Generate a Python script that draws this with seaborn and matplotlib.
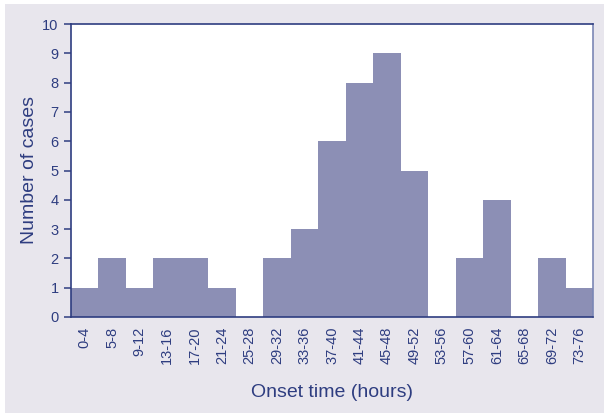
import matplotlib
matplotlib.use("Agg")
import matplotlib.pyplot as plt
import seaborn as sns
import pandas as pd
import numpy as np
from matplotlib.patches import Rectangle

categories = ["0-4", "5-8", "9-12", "13-16", "17-20", "21-24", "25-28", "29-32",
              "33-36", "37-40", "41-44", "45-48", "49-52", "53-56", "57-60",
              "61-64", "65-68", "69-72", "73-76"]
cases = [1, 2, 1, 2, 2, 1, 0, 2, 3, 6, 8, 9, 5, 0, 2, 4, 0, 2, 1]
yticks = [0, 1, 2, 3, 4, 5, 6, 7, 8, 9, 10]

sns.set_theme(style="white")
plt.rcParams['font.family'] = ['Liberation Sans', 'DejaVu Sans']

navy = "#2e3d80"
bg = "#e8e6ed"
barc = "#8c8fb5"

df = pd.DataFrame({"onset": categories, "cases": cases})

fig = plt.figure(figsize=(6.04, 4.13), dpi=100)
fig.patch.set_facecolor("white")
fig.patches.append(Rectangle((5 / 604, 0), 1, 1 - 4 / 413, transform=fig.transFigure,
                             facecolor=bg, edgecolor="none", zorder=-10))
ax = fig.add_axes([71 / 604, 1 - 317 / 413, 522 / 604, 293 / 413])
ax.set_facecolor("white")

sns.barplot(data=df, x="onset", y="cases", color=barc, width=1.0,
            saturation=1, edgecolor="none", linewidth=0, ax=ax)

ax.set_xlim(-0.5, len(categories) - 0.5)
ax.set_ylim(0, 10)
ax.set_yticks(yticks)
ax.set_yticklabels([str(v) for v in yticks], fontsize=10.5, color=navy)
ax.set_xticks(range(len(categories)))
ax.set_xticklabels(categories, rotation=90, fontsize=10.5, color=navy)
ax.set_xticks(np.arange(-0.5, len(categories), 1.0), minor=True)
ax.tick_params(axis="x", which="major", length=0, pad=7)
ax.tick_params(axis="x", which="minor", length=5, width=1.1, color=navy, direction="out")
ax.tick_params(axis="y", which="major", length=5, width=1.1, color=navy, direction="out",
               left=True, pad=4)

for side in ["left", "bottom", "top"]:
    ax.spines[side].set_color(navy)
    ax.spines[side].set_linewidth(1.2)
    ax.spines[side].set_visible(True)
ax.spines["right"].set_color("#7b87b5")
ax.spines["right"].set_linewidth(1.2)
ax.spines["right"].set_visible(True)

ax.set_xlabel("Onset time (hours)", fontsize=14, color=navy, labelpad=14)
ax.set_ylabel("Number of cases", fontsize=14, color=navy)
ax.yaxis.set_label_coords(-33 / 522, 0.5)

fig.savefig("out.png", dpi=100)
